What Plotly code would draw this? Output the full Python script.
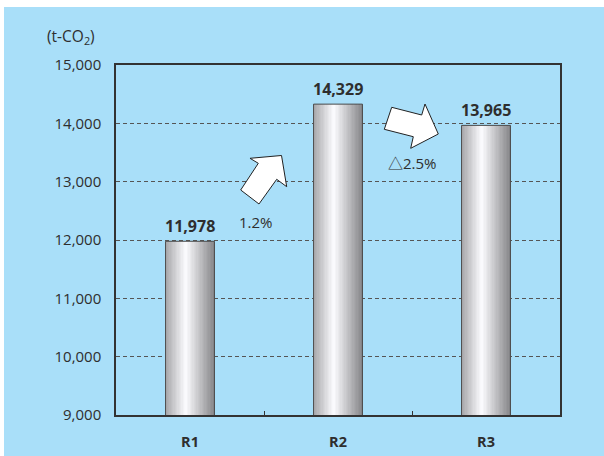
import plotly.graph_objects as go

# ---- data ----
categories = ["R1", "R2", "R3"]
emissions = [11978, 14329, 13965]
value_labels = ["11,978", "14,329", "13,965"]
change_labels = ["1.2%", "△2.5%"]
y_ticks = [9000, 10000, 11000, 12000, 13000, 14000, 15000]
unit_label = "(t-CO<sub>2</sub>)"

# ---- geometry (pixels) ----
W, H = 604, 456
L, R, T, B = 116, 44, 65, 41
PW, PH = W - L - R, H - T - B


def px(x):
    return (x - L) / PW


def py(y):
    return (H - B - y) / PH


FONT = "Open Sans"
TXT = "#2e2e2e"
BAR_W = 0.33
N = 36


def shade(t):
    peak = 0.42
    if t <= peak:
        a, b, u = 165, 252, t / peak
    else:
        a, b, u = 252, 135, (t - peak) / (1 - peak)
    v = round(a + (b - a) * u)
    return f"rgb({v},{v},{min(255, v + 3)})"


fig = go.Figure()
for i in range(N):
    fig.add_trace(go.Bar(
        x=categories, y=emissions,
        width=BAR_W / N + 0.002,
        offset=-BAR_W / 2 + i * BAR_W / N,
        marker=dict(color=shade((i + 0.5) / N), line=dict(width=0)),
        hoverinfo="skip", showlegend=False,
    ))
fig.add_trace(go.Bar(
    x=categories, y=emissions, width=BAR_W,
    marker=dict(color="rgba(0,0,0,0)", line=dict(color="#4a4a4a", width=1)),
    showlegend=False,
))

annotations = []
for c, v, lab in zip(categories, emissions, value_labels):
    annotations.append(dict(x=c, y=v, xref="x", yref="y", text=f"<b>{lab}</b>",
                            showarrow=False, xanchor="center", yanchor="bottom", yshift=2,
                            font=dict(family=FONT, size=16, color=TXT)))


def free_text(text, x, y, family=FONT, size=15):
    return dict(x=px(x), y=py(y), xref="paper", yref="paper", text=text,
                showarrow=False, xanchor="center", yanchor="middle",
                font=dict(family=family, size=size, color=TXT))


annotations.append(free_text(change_labels[0], 256, 222))
annotations.append(free_text(change_labels[1], 412, 163, FONT + ", Noto Sans CJK JP"))
annotations.append(free_text(unit_label, 71, 37, size=15.5))

arrow1 = [(250, 158.3), (281.5, 155.5), (286.7, 186.7), (276.7, 179.3),
          (259, 204), (240.7, 190), (258.3, 163.3)]
arrow2 = [(391.7, 107.3), (421.7, 115), (425, 104), (438.3, 134),
          (410.7, 148.3), (413.3, 136.7), (384.3, 129.3)]


def path(pts):
    return "M " + " L ".join(f"{px(x):.5f},{py(y):.5f}" for x, y in pts) + " Z"


shapes = [
    dict(type="rect", xref="paper", yref="paper", x0=px(4), x1=px(W), y0=py(H), y1=py(7),
         fillcolor="#a9dff9", line=dict(width=0), layer="below"),
]
for pts in (arrow1, arrow2):
    shapes.append(dict(type="path", xref="paper", yref="paper", path=path(pts),
                       fillcolor="white", line=dict(color="#222222", width=1)))

fig.update_layout(
    width=W, height=H,
    margin=dict(l=L, r=R, t=T, b=B, pad=0),
    paper_bgcolor="white", plot_bgcolor="rgba(0,0,0,0)",
    barmode="overlay",
    font=dict(family=FONT, color=TXT, size=14),
    annotations=annotations, shapes=shapes,
    xaxis=dict(range=[-0.5, 2.5], showgrid=False, showline=True, mirror=True,
               linecolor="#333333", linewidth=1.5, ticks="inside", tickson="boundaries",
               ticklen=4, tickcolor="#333333", ticklabelstandoff=13, automargin=False,
               tickfont=dict(family=FONT, size=14.5, color=TXT, weight="bold"),
               fixedrange=True),
    yaxis=dict(range=[9000, 15000], tickvals=y_ticks, tickformat=",", showgrid=True,
               gridcolor="#555555", griddash="4px,3px", gridwidth=1,
               showline=True, mirror=True, linecolor="#333333", linewidth=1.5,
               ticks="", ticklabelstandoff=10, zeroline=False, automargin=False,
               tickfont=dict(family=FONT, size=15, color=TXT), fixedrange=True),
)

fig.write_html("out.html", config={"displayModeBar": False},
               post_script="document.body.style.margin='0';document.body.style.overflow='hidden';")
